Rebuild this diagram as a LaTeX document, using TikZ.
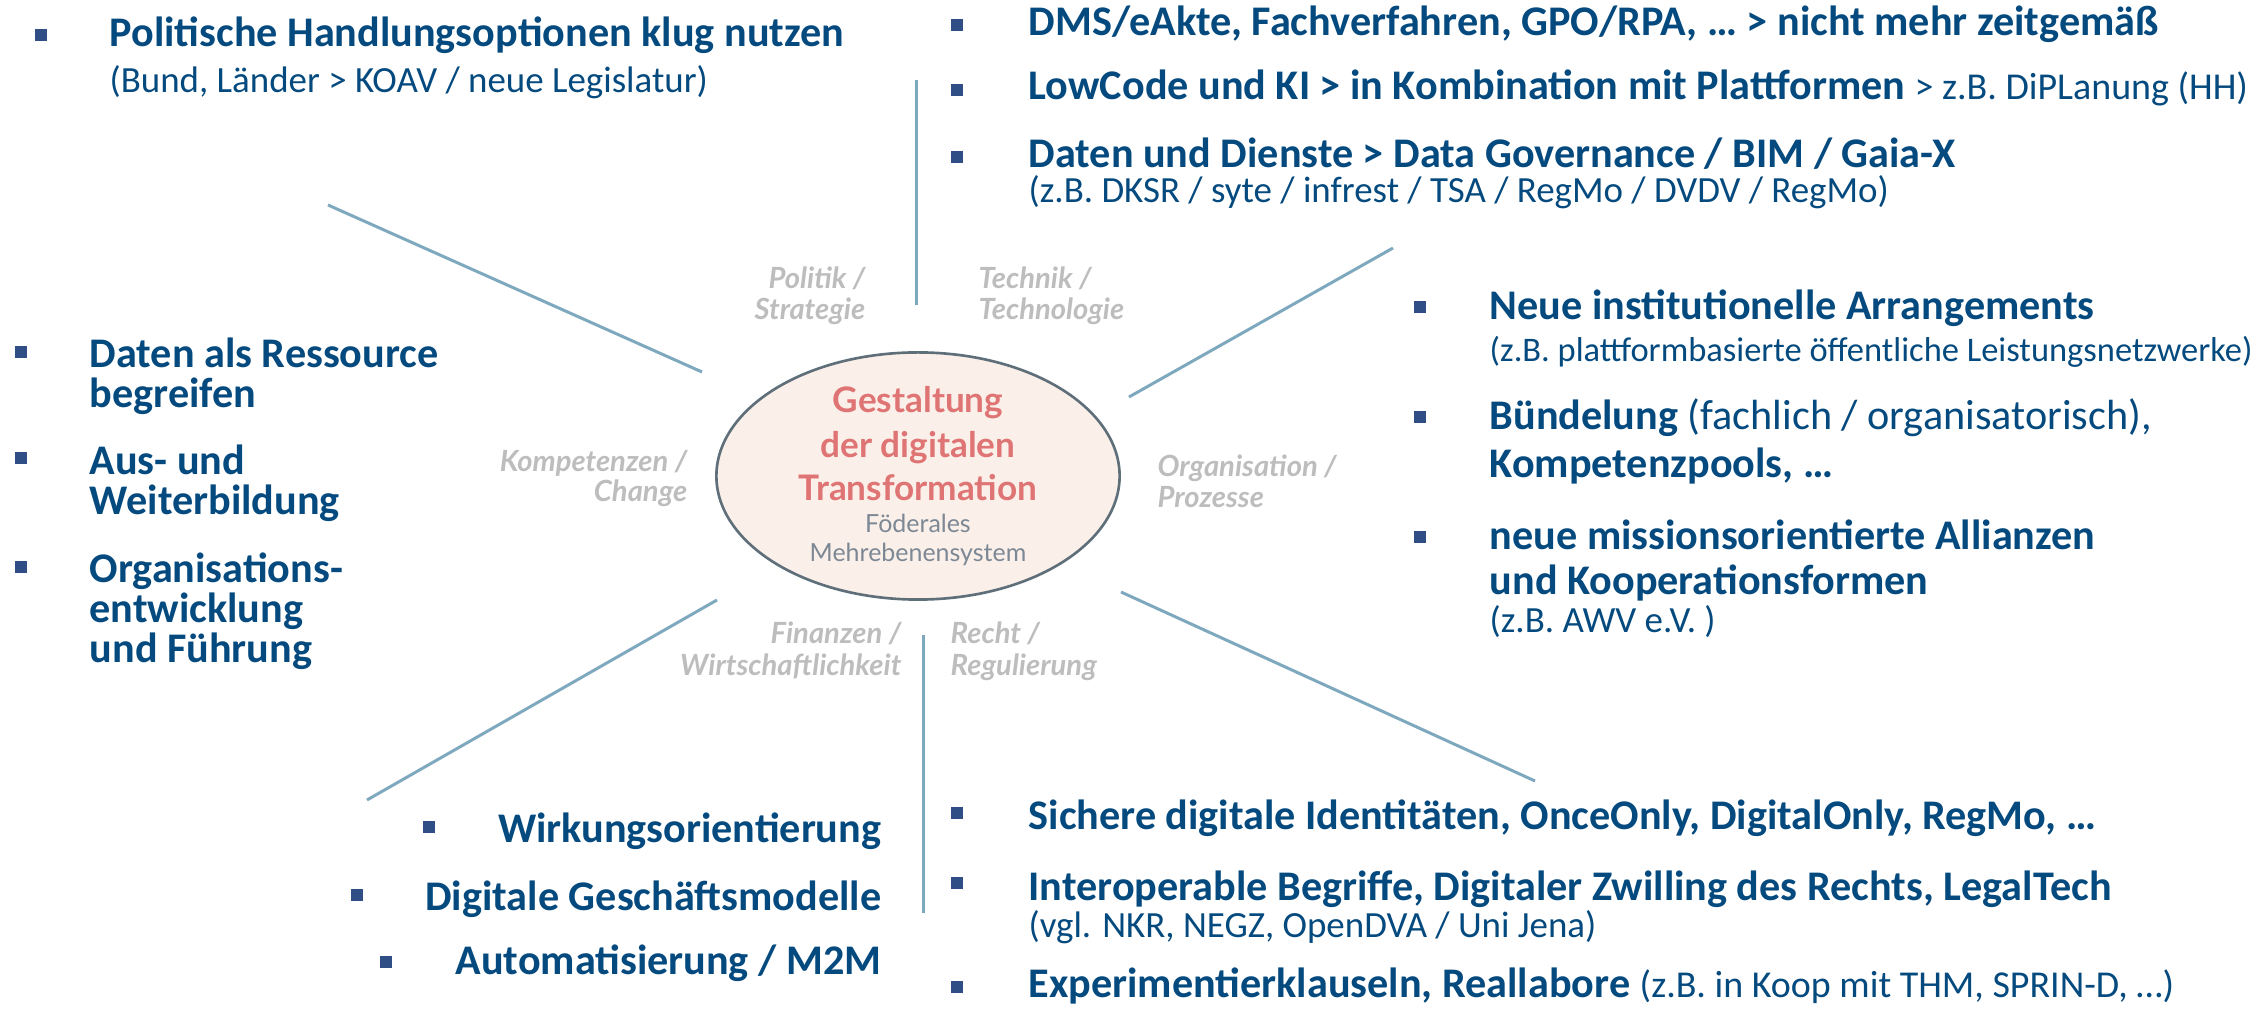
\documentclass[tikz,border=0pt]{standalone}
\usepackage{fontspec}
\setmainfont{Carlito}
\newfontfamily\labelfont{Lato}
\usetikzlibrary{shapes.geometric}

\definecolor{itemblue}{HTML}{054A7E}
\definecolor{bulletblue}{HTML}{2F4E85}
\definecolor{spokeblue}{HTML}{7EA8BE}
\definecolor{ringgrey}{HTML}{5F6F79}
\definecolor{ringfill}{HTML}{FBEFE9}
\definecolor{titlered}{HTML}{DF7474}
\definecolor{subgrey}{HTML}{7D8895}
\definecolor{labelgrey}{HTML}{BDBDBD}

\begin{document}
\begin{tikzpicture}[x=0.01cm, y=-0.01cm,
        spoke/.style={spokeblue, line width=0.85pt},
        bullet/.style={fill=bulletblue, inner sep=0pt, minimum size=0.125cm},
        itemtext/.style={anchor=base west, inner sep=0pt, text=itemblue, font=\fontsize{12}{12}\selectfont\bfseries},
        notetext/.style={anchor=base west, inner sep=0pt, text=itemblue, font=\fontsize{10.5}{10.5}\selectfont},
        dimlabel/.style={inner sep=0pt, text=labelgrey, font=\labelfont\fontsize{8.3}{8.3}\selectfont\bfseries\itshape},
        coretitle/.style={anchor=base, inner sep=0pt, text=titlered, font=\labelfont\fontsize{10}{10}\selectfont\bfseries},
        coresub/.style={anchor=base, inner sep=0pt, text=subgrey, font=\labelfont\fontsize{7.1}{7.1}\selectfont}]

        \useasboundingbox (0,0) rectangle (2254,1010);

        % spokes
        \coordinate (s1a) at (916,80);   \coordinate (s1b) at (916,305);
        \coordinate (s2a) at (328,205);  \coordinate (s2b) at (702,372);
        \coordinate (s3a) at (1393,248); \coordinate (s3b) at (1129,397);
        \coordinate (s4a) at (717,600);  \coordinate (s4b) at (367,800);
        \coordinate (s5a) at (1121,592); \coordinate (s5b) at (1535,781);
        \coordinate (s6a) at (923,635);  \coordinate (s6b) at (923,913);
        \foreach \s in {1,...,6}
            \draw[spoke] (s\s a) -- (s\s b);

        % centre
        \node[ellipse, draw=ringgrey, fill=ringfill, line width=0.75pt, minimum width=4.03cm, minimum height=2.47cm, inner sep=0pt] (core) at (918,476) {};
        \node[coretitle] (core1) at (918,413) {Gestaltung};
        \node[coretitle] (core2) at (918,458) {der digitalen};
        \node[coretitle] (core3) at (918,501) {Transformation};
        \node[coresub] (core4) at (918,533) {Föderales};
        \node[coresub] (core5) at (918,562) {Mehrebenensystem};

        % dimensions
        \node[dimlabel, anchor=base east] (pol1) at (866,289) {Politik /};
        \node[dimlabel, anchor=base east] (pol2) at (866,320) {Strategie};
        \node[dimlabel, anchor=base west] (tec1) at (978,289) {Technik /};
        \node[dimlabel, anchor=base west] (tec2) at (978,320) {Technologie};
        \node[dimlabel, anchor=base east] (kom1) at (688,472) {Kompetenzen /};
        \node[dimlabel, anchor=base east] (kom2) at (688,502) {Change};
        \node[dimlabel, anchor=base west] (org1) at (1157,477) {Organisation /};
        \node[dimlabel, anchor=base west] (org2) at (1157,508) {Prozesse};
        \node[dimlabel, anchor=base east] (fin1) at (902,644) {Finanzen /};
        \node[dimlabel, anchor=base east] (fin2) at (902,676) {Wirtschaftlichkeit};
        \node[dimlabel, anchor=base west] (rec1) at (950,644) {Recht /};
        \node[dimlabel, anchor=base west] (rec2) at (950,676) {Regulierung};

        % Politik
        \node[bullet] (bp1) at (41,35) {};
        \node[itemtext] (p1) at (109,47) {Politische Handlungsoptionen klug nutzen};
        \node[notetext] (p1n) at (109,93) {(Bund, Länder > KOAV / neue Legislatur)};

        % Technik
        \node[bullet] (bt1) at (957,25) {};
        \node[itemtext] (t1) at (1028,36) {DMS/eAkte, Fachverfahren, GPO/RPA, … > nicht mehr zeitgemäß};
        \node[bullet] (bt2) at (957,90) {};
        \node[itemtext] (t2) at (1028,100) {LowCode und KI > in Kombination mit Plattformen {\mdseries\fontsize{10.8}{10.8}\selectfont > z.B. DiPLanung (HH)}};
        \node[bullet] (bt3) at (957,157) {};
        \node[itemtext] (t3) at (1028,168) {Daten und Dienste > Data Governance / BIM / Gaia-X};
        \node[notetext] (t3n) at (1028,203) {(z.B. DKSR / syte / infrest / TSA / RegMo / DVDV / RegMo)};

        % Organisation
        \node[bullet] (bo1) at (1420,307) {};
        \node[itemtext] (o1) at (1489,320) {Neue institutionelle Arrangements};
        \node[notetext, font=\fontsize{9.8}{9.8}\selectfont] (o1n) at (1489,362) {(z.B. plattformbasierte öffentliche Leistungsnetzwerke)};
        \node[bullet] (bo2) at (1420,417) {};
        \node[itemtext] (o2) at (1489,430) {Bündelung {\mdseries (fachlich / organisatorisch),}};
        \node[itemtext] (o2b) at (1489,478) {Kompetenzpools, …};
        \node[bullet] (bo3) at (1420,537) {};
        \node[itemtext] (o3) at (1489,550) {neue missionsorientierte Allianzen};
        \node[itemtext] (o3b) at (1489,595) {und Kooperationsformen};
        \node[notetext] (o3n) at (1489,633) {(z.B. AWV e.V. )};

        % Kompetenzen
        \node[bullet] (bk1) at (21,352) {};
        \node[itemtext] (k1) at (89,368) {Daten als Ressource};
        \node[itemtext] (k1b) at (89,408) {begreifen};
        \node[bullet] (bk2) at (21,458) {};
        \node[itemtext] (k2) at (89,475) {Aus- und};
        \node[itemtext] (k2b) at (89,515) {Weiterbildung};
        \node[bullet] (bk3) at (21,567) {};
        \node[itemtext] (k3) at (89,583) {Organisations-};
        \node[itemtext] (k3b) at (89,623) {entwicklung};
        \node[itemtext] (k3c) at (89,663) {und Führung};

        % Finanzen
        \node[bullet] (bf1) at (429,827) {};
        \node[itemtext, anchor=base east] (f1) at (882,843) {Wirkungsorientierung};
        \node[bullet] (bf2) at (357,895) {};
        \node[itemtext, anchor=base east] (f2) at (882,910) {Digitale Geschäftsmodelle};
        \node[bullet] (bf3) at (386,962) {};
        \node[itemtext, anchor=base east] (f3) at (882,975) {Automatisierung / M2M};

        % Recht
        \node[bullet] (br1) at (957,813) {};
        \node[itemtext] (r1) at (1028,830) {Sichere digitale Identitäten, OnceOnly, DigitalOnly, RegMo, …};
        \node[bullet] (br2) at (957,883) {};
        \node[itemtext] (r2) at (1028,900) {Interoperable Begriffe, Digitaler Zwilling des Rechts, LegalTech};
        \node[notetext] (r2n) at (1028,937) {(vgl. NKR, NEGZ, OpenDVA / Uni Jena)};
        \node[bullet] (br3) at (957,987) {};
        \node[itemtext] (r3) at (1028,997) {Experimentierklauseln, Reallabore {\mdseries\fontsize{10.8}{10.8}\selectfont (z.B. in Koop mit THM, SPRIN-D, …)}};

\end{tikzpicture}
\end{document}
